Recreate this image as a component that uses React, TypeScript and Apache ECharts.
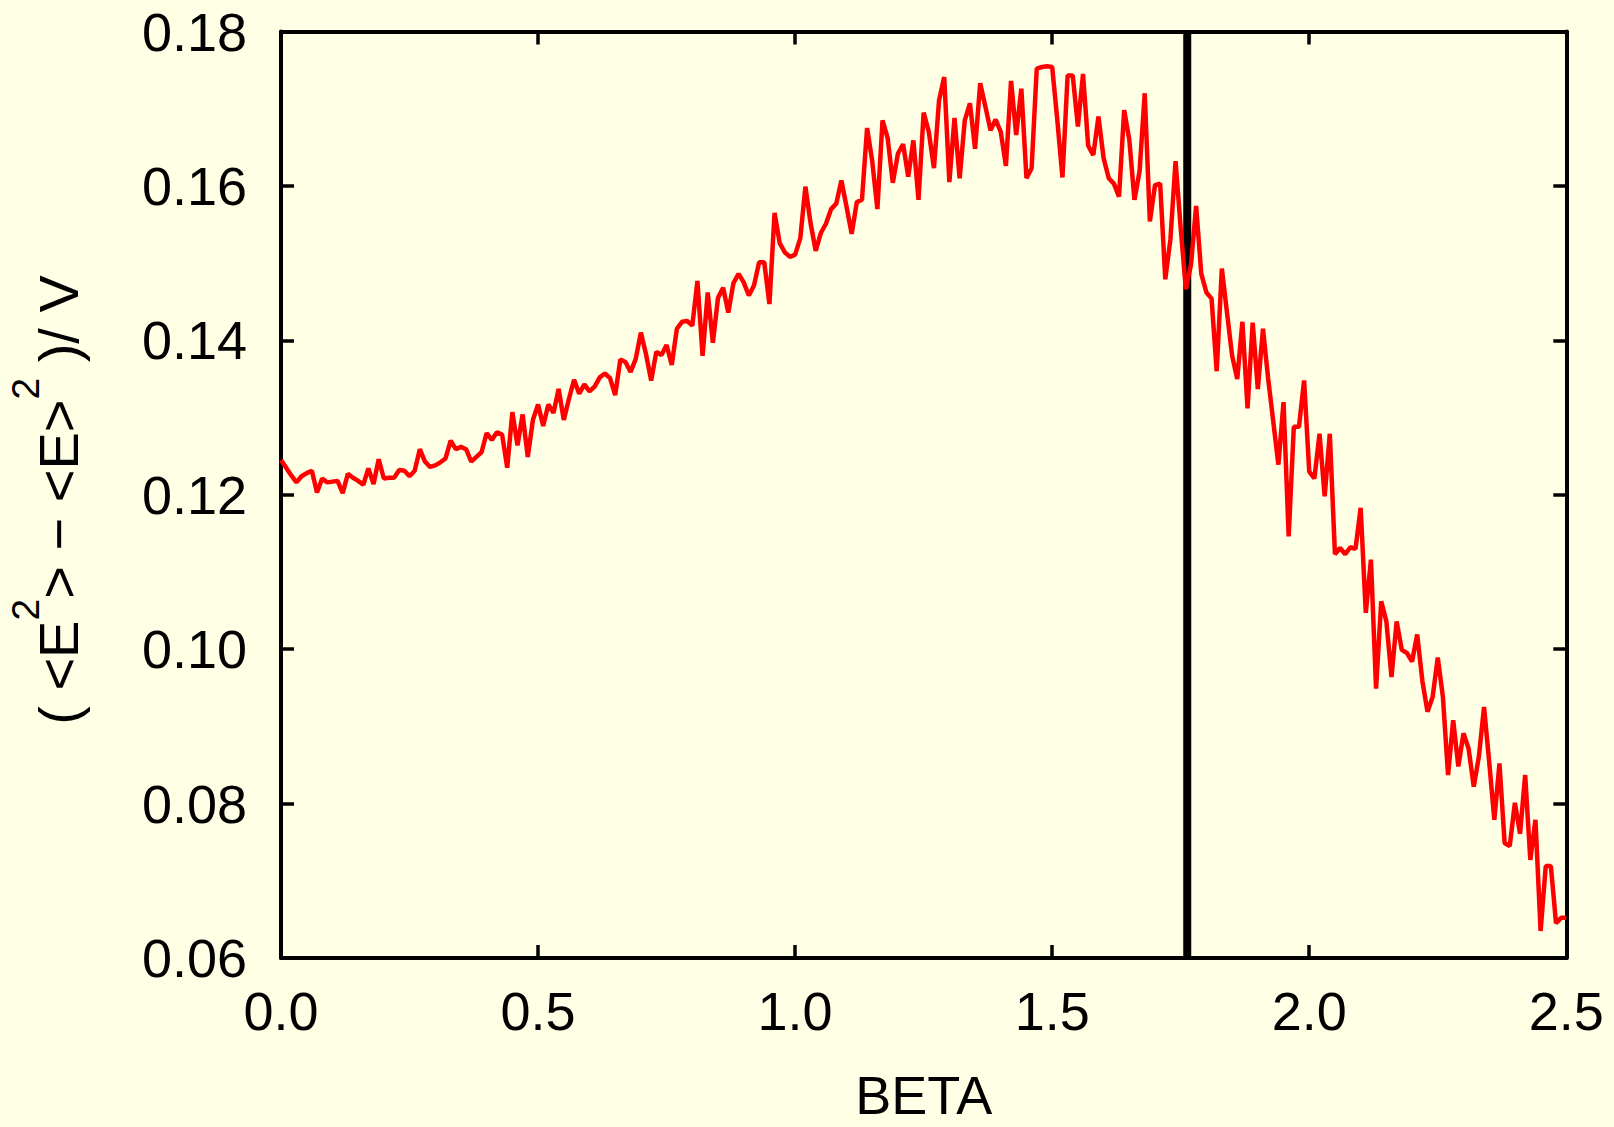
import React, { useEffect, useRef } from "react";
import * as echarts from "echarts";

// Energy fluctuation (<E^2> - <E>^2)/V, sampled every 0.01 in BETA from 0.00 to 2.50
const betaStart = 0;
const betaStep = 0.01;
const fluctuation = [
  0.1245, 0.1235, 0.1225, 0.1216, 0.1224, 0.1228, 0.1231, 0.1203, 0.1221, 0.1216,
  0.1217, 0.1218, 0.1202, 0.1227, 0.1222, 0.1218, 0.1213, 0.1234, 0.1214, 0.1246,
  0.1221, 0.1222, 0.1222, 0.1232, 0.1231, 0.1224, 0.1231, 0.1259, 0.1243, 0.1236,
  0.1238, 0.1242, 0.1247, 0.127, 0.1259, 0.1262, 0.1259, 0.1243, 0.1249, 0.1255,
  0.128, 0.1271, 0.1281, 0.1278, 0.1235, 0.1307, 0.1264, 0.1304, 0.1249, 0.1297,
  0.1317, 0.1289, 0.1317, 0.1306, 0.1337, 0.1297, 0.1324, 0.1349, 0.1331, 0.1343,
  0.1334, 0.134, 0.1352, 0.1357, 0.1351, 0.1329, 0.1375, 0.1372, 0.1359, 0.1376,
  0.141, 0.1382, 0.1348, 0.1385, 0.1381, 0.1394, 0.1368, 0.1415, 0.1424, 0.1425,
  0.1419, 0.1477, 0.138, 0.1462, 0.1397, 0.1455, 0.1468, 0.1436, 0.1474, 0.1486,
  0.1475, 0.1458, 0.1471, 0.1501, 0.1501, 0.1447, 0.1565, 0.1526, 0.1514, 0.1508,
  0.1511, 0.1532, 0.1599, 0.1552, 0.1516, 0.1539, 0.1551, 0.157, 0.1577, 0.1607,
  0.1573, 0.1538, 0.1579, 0.1582, 0.1675, 0.1632, 0.157, 0.1685, 0.1662, 0.1604,
  0.1642, 0.1654, 0.1612, 0.1659, 0.1582, 0.1695, 0.167, 0.1623, 0.1711, 0.1741,
  0.1605, 0.1688, 0.161, 0.1685, 0.1707, 0.1648, 0.1733, 0.1703, 0.1672, 0.1686,
  0.167, 0.1626, 0.1736, 0.1666, 0.1726, 0.161, 0.1623, 0.1752, 0.1754, 0.1755,
  0.1754, 0.1685, 0.1611, 0.1743, 0.1743, 0.1677, 0.1745, 0.1652, 0.164, 0.169,
  0.1636, 0.161, 0.1603, 0.1586, 0.1698, 0.166, 0.1582, 0.1619, 0.172, 0.1554,
  0.1601, 0.1603, 0.1479, 0.1531, 0.1632, 0.1545, 0.1466, 0.1498, 0.1574, 0.1486,
  0.1462, 0.1454, 0.136, 0.1493, 0.1436, 0.138, 0.135, 0.1424, 0.1312, 0.1423,
  0.1337, 0.1415, 0.1351, 0.1295, 0.1239, 0.132, 0.1146, 0.1288, 0.1288, 0.1348,
  0.123, 0.1221, 0.1279, 0.1198, 0.1279, 0.1123, 0.1131, 0.1123, 0.1132, 0.113,
  0.1183, 0.1047, 0.1116, 0.0949, 0.1062, 0.1036, 0.0964, 0.1036, 0.0999, 0.0995,
  0.0984, 0.1019, 0.0959, 0.0919, 0.0938, 0.0989, 0.0938, 0.0837, 0.0908, 0.0848,
  0.0891, 0.0871, 0.0822, 0.0861, 0.0925, 0.0854, 0.0779, 0.0852, 0.0749, 0.0745,
  0.0801, 0.0761, 0.0837, 0.0727, 0.0779, 0.0635, 0.0719, 0.0719, 0.0645, 0.0652,
  0.0652,
];

// vertical marker at the critical coupling
const criticalBeta = 1.7627;

// axis ticks
const xTicks = [0.0, 0.5, 1.0, 1.5, 2.0, 2.5];
const yTicks = [0.06, 0.08, 0.1, 0.12, 0.14, 0.16, 0.18];

const xTitle = "BETA";

const FONT = "'Liberation Sans', Arial, Helvetica, sans-serif";
const BG = "#ffffe6";

export default function App() {
  const ref = useRef<HTMLDivElement>(null);

  useEffect(() => {
    if (!ref.current) return;
    const chart = echarts.init(ref.current, undefined, { renderer: "svg" });

    const xMin = xTicks[0];
    const xMax = xTicks[xTicks.length - 1];
    const xInt = xTicks[1] - xTicks[0];
    const yMin = yTicks[0];
    const yMax = yTicks[yTicks.length - 1];
    const yInt = +(yTicks[1] - yTicks[0]).toFixed(4);

    const curve = fluctuation.map((v, i) => [+(betaStart + i * betaStep).toFixed(2), v]);

    const axisLine = { show: true, onZero: false, lineStyle: { color: "#000", width: 4 } };
    const axisTick = { show: true, inside: true, length: 13, lineStyle: { color: "#000", width: 3.5 } };
    const labelBase = { color: "#000", fontSize: 54, fontFamily: FONT };

    const option: any = {
      animation: false,
      backgroundColor: BG,
      grid: { left: 281, right: 47.7, top: 31.5, bottom: 164.5, containLabel: false },
      xAxis: [
        {
          type: "value",
          position: "bottom",
          min: xMin,
          max: xMax,
          interval: xInt,
          axisLine,
          axisTick,
          splitLine: { show: false },
          axisLabel: { ...labelBase, margin: 26, formatter: (v: number) => v.toFixed(1) },
          name: xTitle,
          nameLocation: "middle",
          nameGap: 110,
          nameTextStyle: { ...labelBase },
        },
        {
          type: "value",
          position: "top",
          min: xMin,
          max: xMax,
          interval: xInt,
          axisLine,
          axisTick,
          splitLine: { show: false },
          axisLabel: { show: false },
        },
      ],
      yAxis: [
        {
          type: "value",
          position: "left",
          min: yMin,
          max: yMax,
          interval: yInt,
          axisLine,
          axisTick,
          splitLine: { show: false },
          axisLabel: { ...labelBase, margin: 34, formatter: (v: number) => v.toFixed(2) },
        },
        {
          type: "value",
          position: "right",
          min: yMin,
          max: yMax,
          interval: yInt,
          axisLine,
          axisTick,
          splitLine: { show: false },
          axisLabel: { show: false },
        },
      ],
      graphic: [
        {
          type: "text",
          x: 46,
          y: 500,
          rotation: Math.PI / 2,
          style: {
            text: "{n|( <E}{s|2}{n|> − <E>}{s|2}{n| )/ V}",
            align: "center",
            verticalAlign: "middle",
            fill: "#000",
            rich: {
              n: { fontSize: 56, fontFamily: FONT, lineHeight: 80, verticalAlign: "bottom", fill: "#000" },
              s: { fontSize: 39, fontFamily: FONT, verticalAlign: "top", fill: "#000" },
            },
          },
        },
      ],
      series: [
        {
          type: "line",
          xAxisIndex: 0,
          yAxisIndex: 0,
          data: [
            [criticalBeta, yMin],
            [criticalBeta, yMax],
          ],
          symbol: "none",
          lineStyle: { color: "#000", width: 8 },
          z: 1,
          silent: true,
        },
        {
          type: "line",
          xAxisIndex: 0,
          yAxisIndex: 0,
          data: curve,
          symbol: "none",
          lineStyle: { color: "#ff0000", width: 4.5 },
          z: 2,
        },
      ],
    };

    chart.setOption(option);
    return () => chart.dispose();
  }, []);

  return (
    <div
      ref={ref}
      style={{ position: "fixed", left: 0, top: 0, width: 1614, height: 1127, background: BG }}
    />
  );
}
